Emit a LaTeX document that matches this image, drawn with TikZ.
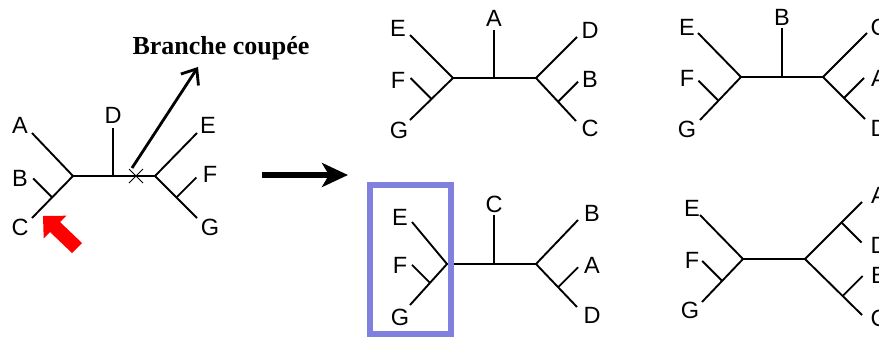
\documentclass[tikz,border=0pt]{standalone}
\usepackage{fontspec}
\setmainfont{Liberation Sans}
\newfontfamily\annotfont{Liberation Serif}
\usetikzlibrary{arrows.meta,calc}
\definecolor{boxblue}{RGB}{128,128,222}
\begin{document}
\begin{tikzpicture}[x=1pt,y=-1pt,
  br/.style={line width=1.9pt, black},
  lab/.style={font=\fontsize{23.5}{27}\selectfont, inner sep=0pt},
  cutmark/.style={line width=0.9pt, black},
  annot/.style={line width=2.8pt, black, -{Straight Barb[length=13pt,width=21pt,line width=2.8pt]}},
  bigarrow/.style={line width=6pt, black, -{Stealth[length=26pt,width=24pt,inset=7pt]}},
  selbox/.style={draw=boxblue, line width=5.5pt}]
\useasboundingbox (0,0) rectangle (879,341);
\clip (0,0) rectangle (879,341);

% ---------------- left tree ----------------
\coordinate (Ll) at (73,176);
\coordinate (Lr) at (155,176);
\coordinate (LDb) at (113,176);
\coordinate (LDt) at (113,128);
\coordinate (LA) at (32,133);
\coordinate (LC) at (32,218);
\coordinate (LBCs) at ($(Ll)!0.51!(LC)$);
\coordinate (LB) at ($(LBCs)+(-19,-19)$);
\coordinate (LE) at (197,133);
\coordinate (LG) at (197,218);
\coordinate (LFGs) at ($(Lr)!0.51!(LG)$);
\coordinate (LF) at ($(LFGs)+(20,-20)$);
\coordinate (Lx) at (136,176);
\draw[br] (Ll) -- (Lr);
\draw[br] (LDb) -- (LDt);
\draw[br] (Ll) -- (LA);
\draw[br] (Ll) -- (LC);
\draw[br] (LBCs) -- (LB);
\draw[br] (Lr) -- (LE);
\draw[br] (Lr) -- (LG);
\draw[br] (LFGs) -- (LF);
\draw[cutmark] ($(Lx)+(-7,-7)$) -- ($(Lx)+(7,7)$);
\draw[cutmark] ($(Lx)+(-7,7)$) -- ($(Lx)+(7,-7)$);
\node[lab] (tA) at (20,125) {A};
\node[lab] (tB) at (20,178) {B};
\node[lab] (tC) at (20,227) {C};
\node[lab] (tD) at (113,115) {D};
\node[lab] (tE) at (208,125) {E};
\node[lab] (tF) at (210,174) {F};
\node[lab] (tG) at (210,227) {G};

% red arrow
\fill[red] (43,216) -- (66.3,215.7) -- (60,222) -- (82,243) -- (72,253) -- (50,232) -- (43.7,238.3) -- cycle;

% annotation
\node[inner sep=0pt, font=\annotfont\bfseries\fontsize{26}{30}\selectfont] (cut) at (221,48) {Branche coupée};
\coordinate (arrS) at (132,168);
\coordinate (arrE) at (198,67);
\draw[annot] (arrS) -- (arrE);

% big arrow
\coordinate (bigS) at (262,175);
\coordinate (bigE) at (348,175);
\draw[bigarrow] (bigS) -- (bigE);

% ---------------- top middle tree ----------------
\coordinate (Pl) at (453,78);
\coordinate (Pr) at (536,78);
\coordinate (PAt) at (494,30);
\coordinate (PAb) at (494,78);
\coordinate (PE) at (410,35);
\coordinate (PG) at (410,120);
\coordinate (PFGs) at ($(Pl)!0.5!(PG)$);
\coordinate (PF) at ($(PFGs)+(-21,-21)$);
\coordinate (PD) at (577,37);
\coordinate (PC) at (576,121);
\coordinate (PBCs) at ($(Pr)!0.55!(PC)$);
\coordinate (PB) at ($(PBCs)+(20,-20)$);
\draw[br] (Pl) -- (Pr);
\draw[br] (PAb) -- (PAt);
\draw[br] (Pl) -- (PE);
\draw[br] (Pl) -- (PG);
\draw[br] (PFGs) -- (PF);
\draw[br] (Pr) -- (PD);
\draw[br] (Pr) -- (PC);
\draw[br] (PBCs) -- (PB);
\node[lab] (pA) at (494,18) {A};
\node[lab] (pE) at (398,28) {E};
\node[lab] (pF) at (398,80) {F};
\node[lab] (pG) at (399,130) {G};
\node[lab] (pD) at (590,30) {D};
\node[lab] (pB) at (590,79) {B};
\node[lab] (pC) at (590,128) {C};

% ---------------- top right tree ----------------
\coordinate (Ql) at (741,77);
\coordinate (Qr) at (823,77);
\coordinate (QBt) at (782,28);
\coordinate (QBb) at (782,77);
\coordinate (QE) at (698,33);
\coordinate (QG) at (700,120);
\coordinate (QFGs) at ($(Ql)!0.55!(QG)$);
\coordinate (QF) at ($(QFGs)+(-20,-20)$);
\coordinate (QC) at (867,33);
\coordinate (QD) at (865,119);
\coordinate (QADs) at ($(Qr)!0.5!(QD)$);
\coordinate (QA) at ($(QADs)+(20,-20)$);
\draw[br] (Ql) -- (Qr);
\draw[br] (QBb) -- (QBt);
\draw[br] (Ql) -- (QE);
\draw[br] (Ql) -- (QG);
\draw[br] (QFGs) -- (QF);
\draw[br] (Qr) -- (QC);
\draw[br] (Qr) -- (QD);
\draw[br] (QADs) -- (QA);
\node[lab] (qB) at (782,17) {B};
\node[lab] (qE) at (687,27) {E};
\node[lab] (qF) at (687,78) {F};
\node[lab] (qG) at (687,129) {G};
\node[lab] (qC) at (879,27) {C};
\node[lab] (qA) at (879,78) {A};
\node[lab] (qD) at (879,128) {D};

% ---------------- bottom middle tree ----------------
\coordinate (Ml) at (447,264);
\coordinate (Mr) at (536,264);
\coordinate (MCt) at (494,215);
\coordinate (MCb) at (494,264);
\coordinate (ME) at (412,222);
\coordinate (MG) at (410,305);
\coordinate (MFGs) at ($(Ml)!0.46!(MG)$);
\coordinate (MF) at ($(MFGs)+(-18,-18)$);
\coordinate (MB) at (578,220);
\coordinate (MD) at (577,307);
\coordinate (MADs) at ($(Mr)!0.54!(MD)$);
\coordinate (MA) at ($(MADs)+(20,-20)$);
\draw[br] (Ml) -- (Mr);
\draw[br] (MCb) -- (MCt);
\draw[br] (Ml) -- (ME);
\draw[br] (Ml) -- (MG);
\draw[br] (MFGs) -- (MF);
\draw[br] (Mr) -- (MB);
\draw[br] (Mr) -- (MD);
\draw[br] (MADs) -- (MA);
\node[lab] (mC) at (494,204) {C};
\node[lab] (mE) at (400,217) {E};
\node[lab] (mF) at (400,265) {F};
\node[lab] (mG) at (400,317) {G};
\node[lab] (mB) at (592,213) {B};
\node[lab] (mA) at (592,265) {A};
\node[lab] (mD) at (592,315) {D};
\node[selbox, minimum width=81pt, minimum height=149pt, inner sep=0pt] (box) at (410.5,259.5) {};

% ---------------- bottom right tree ----------------
\coordinate (Nl) at (743,259);
\coordinate (Nr) at (805,259);
\coordinate (NE) at (700,215);
\coordinate (NG) at (702,302);
\coordinate (NFGs) at ($(Nl)!0.51!(NG)$);
\coordinate (NF) at ($(NFGs)+(-20,-20)$);
\coordinate (NA) at (862,202);
\coordinate (NADs) at ($(Nr)!0.64!(NA)$);
\coordinate (ND) at ($(NADs)+(20,20)$);
\coordinate (NC) at (862,315);
\coordinate (NBCs) at ($(Nr)!0.66!(NC)$);
\coordinate (NB) at ($(NBCs)+(20,-20)$);
\draw[br, line width=2.6pt] (Nl) -- (Nr);
\draw[br] (Nl) -- (NE);
\draw[br] (Nl) -- (NG);
\draw[br] (NFGs) -- (NF);
\draw[br] (Nr) -- (NA);
\draw[br] (Nr) -- (NC);
\draw[br] (NADs) -- (ND);
\draw[br] (NBCs) -- (NB);
\node[lab] (nE) at (692,208) {E};
\node[lab] (nF) at (692,260) {F};
\node[lab] (nG) at (690,310) {G};
\node[lab] (nA) at (879,195) {A};
\node[lab] (nD) at (879,245) {D};
\node[lab] (nB) at (879,275) {B};
\node[lab] (nC) at (879,318) {C};
\end{tikzpicture}
\end{document}
